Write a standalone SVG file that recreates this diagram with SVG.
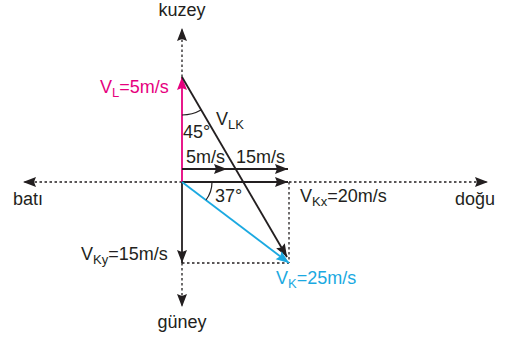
<svg xmlns="http://www.w3.org/2000/svg" width="506" height="339" viewBox="0 0 506 339">
<style>
text{font-family:"Liberation Sans",Arial,sans-serif;font-size:18px;fill:#231f20}
.sub{font-size:13px}
.mag{fill:#e6007e}
.blu{fill:#1ba9e1}
.ln{stroke:#231f20;stroke-width:1.8;fill:none}
.dot{stroke:#231f20;stroke-width:1.3;fill:none;stroke-dasharray:2.5,2.5}
.arc{stroke:#231f20;stroke-width:1.2;fill:none}
</style>
<defs>
<marker id="ah" markerUnits="userSpaceOnUse" markerWidth="14" markerHeight="11" refX="13" refY="5" orient="auto">
<path d="M0,0 L13,5 L0,10 L2,5 z" fill="#231f20"/>
</marker>
<marker id="ahm" markerUnits="userSpaceOnUse" markerWidth="14" markerHeight="11" refX="13" refY="5" orient="auto">
<path d="M0,0 L13,5 L0,10 L2,5 z" fill="#e6007e"/>
</marker>
<marker id="ahb" markerUnits="userSpaceOnUse" markerWidth="14" markerHeight="11" refX="13" refY="5" orient="auto">
<path d="M0,0 L13,5 L0,10 L2,5 z" fill="#1ba9e1"/>
</marker>
</defs>
<g id="connectors">
<line class="dot" x1="182" y1="77" x2="182" y2="28" marker-end="url(#ah)"/>
<line class="dot" x1="182" y1="263" x2="182" y2="307" marker-end="url(#ah)"/>
<line class="dot" x1="182" y1="182" x2="23" y2="182" marker-end="url(#ah)"/>
<line class="dot" x1="289" y1="182" x2="488" y2="182" marker-end="url(#ah)"/>
<line class="dot" x1="289" y1="182" x2="289" y2="263"/>
<line class="dot" x1="182" y1="263" x2="289" y2="263"/>
<line x1="182" y1="182" x2="182" y2="77" stroke="#e6007e" stroke-width="1.8" marker-end="url(#ahm)"/>
<line class="ln" x1="182" y1="169" x2="227" y2="169" marker-end="url(#ah)"/>
<line class="ln" x1="226" y1="169" x2="288" y2="169" marker-end="url(#ah)"/>
<line class="ln" x1="182" y1="182" x2="288" y2="182" marker-end="url(#ah)"/>
<line class="ln" x1="182" y1="182" x2="182" y2="263" marker-end="url(#ah)"/>
<line class="ln" x1="182" y1="77" x2="287" y2="257" marker-end="url(#ah)"/>
<line x1="182" y1="182" x2="289" y2="263" stroke="#1ba9e1" stroke-width="1.8" marker-end="url(#ahb)"/>
<path class="arc" d="M182,115 A38,38 0 0 0 201,110"/>
<path class="arc" d="M212,182 A30,30 0 0 1 206,200"/>
</g>
<g id="labels">
<text x="182" y="16" text-anchor="middle">kuzey</text>
<text x="182" y="328" text-anchor="middle">güney</text>
<text x="13" y="205">batı</text>
<text x="455" y="205">doğu</text>
<text class="mag" x="100" y="93">V<tspan class="sub" dy="4">L</tspan><tspan dy="-4">=5m/s</tspan></text>
<text x="216" y="125">V<tspan class="sub" dy="4">LK</tspan></text>
<text x="183" y="138">45°</text>
<text x="186" y="163">5m/s</text>
<text x="236" y="163">15m/s</text>
<text x="215" y="202">37°</text>
<text x="300" y="202">V<tspan class="sub" dy="4">Kx</tspan><tspan dy="-4">=20m/s</tspan></text>
<text x="81" y="260">V<tspan class="sub" dy="4">Ky</tspan><tspan dy="-4">=15m/s</tspan></text>
<text class="blu" x="276" y="284">V<tspan class="sub" dy="4">K</tspan><tspan dy="-4">=25m/s</tspan></text>
</g>
</svg>
